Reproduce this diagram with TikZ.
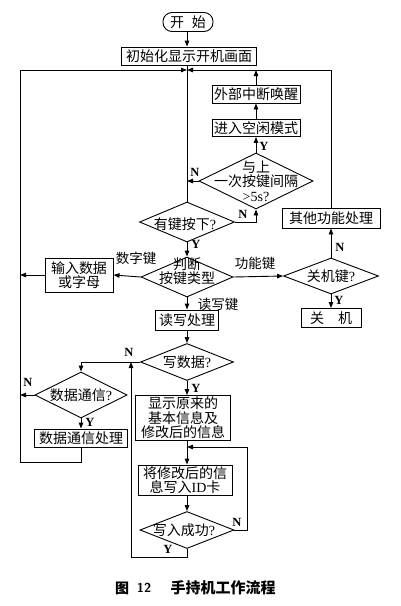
\documentclass[tikz,border=0pt]{standalone}
\usepackage{fontspec}
\setmainfont{Liberation Serif}
\newfontfamily\cjk{Noto Sans CJK SC}
\usetikzlibrary{arrows.meta,shapes.geometric}
\newcommand\qm{{\rmfamily ?}}
\begin{document}
\begin{tikzpicture}[x=1pt,y=-1pt,line width=0.9pt,
  font=\cjk\fontsize{14}{14.5}\selectfont,
  box/.style={draw,rectangle,inner sep=0pt,align=center},
  dia/.style={draw,diamond,inner sep=0pt},
  txt/.style={inner sep=0pt,align=center},
  arr/.style={-{Triangle[length=6pt,width=4.5pt]}},
  yn/.style={inner sep=0pt,font=\rmfamily\bfseries\fontsize{12.5}{13}\selectfont},
  lab/.style={inner sep=0pt,font=\cjk\fontsize{13.5}{14}\selectfont}]
\useasboundingbox (0,0) rectangle (400,606);
% nodes
\node[box,rounded corners=9pt,minimum width=50pt,minimum height=19pt] (start) at (188,22) {开\hspace{0.55em}始};
\node[box,minimum width=135pt,minimum height=18pt] (init) at (189,56) {初始化显示开机画面};
\node[box,minimum width=88pt,minimum height=18pt] (wake) at (256,94) {外部中断唤醒};
\node[box,minimum width=88pt,minimum height=17pt] (idle) at (256,128) {进入空闲模式};
\node[dia,minimum width=114pt,minimum height=56pt] (gap) at (256,181) {};
\node[txt] (gapt) at (256,181) {与上\\一次按键间隔\\{\rmfamily >5s?}};
\node[dia,minimum width=95pt,minimum height=40pt] (key) at (187,222) {};
\node[txt] (keyt) at (185,224) {有键按下\qm};
\node[dia,minimum width=92pt,minimum height=40pt] (judge) at (187,277) {};
\node[txt] (judget) at (187,271) {判断\\按键类型};
\node[box,minimum width=68pt,minimum height=34pt] (input) at (79,275) {输入数据\\或字母};
\node[dia,minimum width=95pt,minimum height=36pt] (shut) at (331,276) {};
\node[txt] (shutt) at (331,276) {关机键\qm};
\node[box,minimum width=98pt,minimum height=20pt] (other) at (331,218) {其他功能处理};
\node[box,minimum width=60pt,minimum height=19pt] (off) at (331,318) {关\hspace{1em}机};
\node[box,minimum width=63pt,minimum height=20pt] (rw) at (187,320) {读写处理};
\node[dia,minimum width=93pt,minimum height=37pt] (write) at (187,362) {};
\node[txt] (writet) at (187,362) {写数据\qm};
\node[dia,minimum width=92pt,minimum height=46pt] (comm) at (81,395) {};
\node[txt] (commt) at (81,395) {数据通信\qm};
\node[box,minimum width=93pt,minimum height=18pt] (commproc) at (81,438) {数据通信处理};
\node[box,minimum width=95pt,minimum height=45pt] (show) at (183,418) {显示原来的\\基本信息及\\修改后的信息};
\node[box,minimum width=94pt,minimum height=30pt] (writeid) at (185,480) {将修改后的信\\息写入{\rmfamily ID}卡};
\node[dia,minimum width=94pt,minimum height=37pt] (succ) at (187,530) {};
\node[txt] (succt) at (184,530) {写入成功\qm};
% coordinates
\coordinate (jtop) at (187,70);
\coordinate (lx) at (20,0);
\coordinate (rx) at (247,0);
\coordinate (c2) at (187,447);
\coordinate (c3) at (131,362);
% connectors
\draw[arr] (start.south -| jtop) -- (init.north -| jtop) ;
\draw (init.south -| jtop) -- (key.north);
\draw[arr] (commproc.south) -- ++(0,15) -| (lx |- jtop) -- (jtop);
\draw[arr] (other.north) |- (jtop);
\draw[arr] (wake.north) -- (wake.north |- jtop);
\draw[arr] (idle.north) -- (wake.south);
\draw[arr] (gap.north) -- (idle.south);
\draw[arr] (gap.west) -- (gap.west -| jtop);
\draw[arr] (key.east) -| (gap.south);
\draw[arr] (key.south) -- (judge.north);
\draw[arr] (judge.west) -- (input.east);
\draw[arr] (input.west) -- (input.west -| lx);
\draw[arr] (judge.east) -- (shut.west);
\draw[arr] (shut.north) -- (other.south);
\draw[arr] (shut.south) -- (off.north);
\draw[arr] (judge.south) -- (rw.north);
\draw[arr] (rw.south) -- (write.north);
\draw[arr] (write.west) -| (comm.north);
\draw[arr] (comm.west) -- (comm.west -| lx);
\draw[arr] (comm.south) -- (commproc.north);
\draw[arr] (write.south) -- (write.south |- show.north);
\draw[arr] (show.south -| write) -- (writeid.north -| write);
\draw[arr] (writeid.south -| write) -- (succ.north);
\draw[arr] (succ.east) -| (rx |- c2) -- (c2);
\draw[arr] (succ.south) -- ++(0,8) -| (c3);
% labels
\node[yn] (l1) at (264,146) {Y};
\node[yn] (l2) at (195,172) {N};
\node[yn] (l3) at (243,214) {N};
\node[yn] (l4) at (196,244) {Y};
\node[lab] (l5) at (136,258) {数字键};
\node[lab] (l6) at (255,263) {功能键};
\node[yn] (l7) at (340,247) {N};
\node[yn] (l8) at (339,300) {Y};
\node[lab] (l9) at (218,304) {读写键};
\node[yn] (l10) at (129,352) {N};
\node[yn] (l11) at (28,382) {N};
\node[yn] (l12) at (90,422) {Y};
\node[yn] (l13) at (196,388) {Y};
\node[yn] (l14) at (237,522) {N};
\node[yn] (l15) at (168,549) {Y};
% caption
\node[inner sep=0pt,font=\cjk\bfseries\fontsize{14}{14}\selectfont] (cap1) at (122,588) {图};
\node[inner sep=0pt,font=\sffamily\bfseries\fontsize{13}{13}\selectfont] (cap2) at (144,588) {12};
\node[inner sep=0pt,font=\cjk\bfseries\fontsize{15}{15}\selectfont] (cap3) at (223,588) {手持机工作流程};
\end{tikzpicture}
\end{document}
